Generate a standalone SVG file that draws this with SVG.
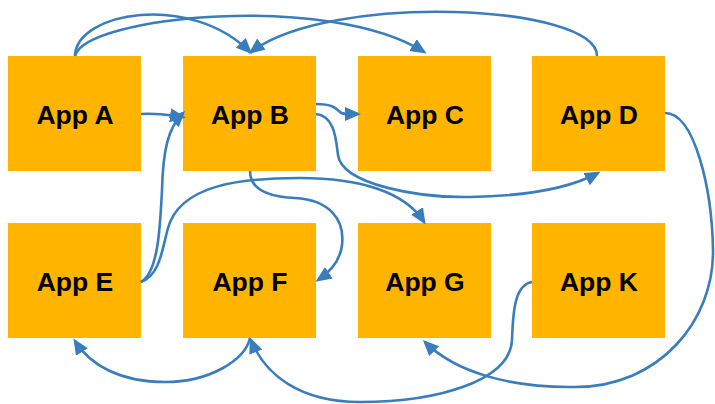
<svg xmlns="http://www.w3.org/2000/svg" width="715" height="404" viewBox="0 0 715 404">
<style>
.box{fill:#FFB400;}
.lbl{font-family:"Liberation Sans",Arial,sans-serif;font-weight:bold;font-size:26.5px;fill:#000;text-anchor:middle;}
.c{fill:none;stroke:#3A7DBD;stroke-width:2.6;marker-end:url(#ah);}
</style>
<defs>
<marker id="ah" markerUnits="userSpaceOnUse" markerWidth="17" markerHeight="15" refX="13" refY="7" orient="auto">
<path d="M0,0 L16,7 L0,14 z" fill="#3A7DBD"/>
</marker>
</defs>
<rect width="715" height="404" fill="#fff"/>
<g id="appA"><rect class="box" x="8" y="56" width="133" height="115"/><text class="lbl" x="75" y="124">App A</text></g>
<g id="appB"><rect class="box" x="183" y="56" width="133" height="115"/><text class="lbl" x="250" y="124">App B</text></g>
<g id="appC"><rect class="box" x="358" y="56" width="133" height="115"/><text class="lbl" x="425" y="124">App C</text></g>
<g id="appD"><rect class="box" x="532" y="56" width="133" height="115"/><text class="lbl" x="599" y="124">App D</text></g>
<g id="appE"><rect class="box" x="8" y="223" width="133" height="115"/><text class="lbl" x="75" y="291">App E</text></g>
<g id="appF"><rect class="box" x="183" y="223" width="133" height="115"/><text class="lbl" x="250" y="291">App F</text></g>
<g id="appG"><rect class="box" x="358" y="223" width="133" height="115"/><text class="lbl" x="425" y="291">App G</text></g>
<g id="appK"><rect class="box" x="532" y="223" width="133" height="115"/><text class="lbl" x="599" y="291">App K</text></g>
<g id="connectors">
<path class="c" d="M75,56 C76,12 190,-8 250,52"/>
<path class="c" d="M75,56 C85,16 330,-8 424,52"/>
<path class="c" d="M597,56 C597,4 330,-8 251,52"/>
<path class="c" d="M141,114 C160,113 168,115 183,117"/>
<path class="c" d="M141,282 C158,272 160,230 162,190 C163,150 168,128 183,113"/>
<path class="c" d="M141,282 C160,275 162,250 168,228 C180,185 240,178 300,178 C360,178 405,192 424,222"/>
<path class="c" d="M250,171 C250,190 270,197 295,198 C330,200 345,220 342,245 C340,262 330,272 318,280"/>
<path class="c" d="M316,104 C332,104 336,108 340,112 C343,115 348,114 358,114"/>
<path class="c" d="M316,114 C335,116 336,140 338,155 C342,185 420,198 470,197 C530,196 570,188 598,173"/>
<path class="c" d="M665,113 C695,113 712,190 713,250 C714,320 660,387 575,387 C510,388 455,372 425,342"/>
<path class="c" d="M532,282 C515,285 513,310 512,340 C510,380 440,402 360,402 C300,402 265,375 251,340"/>
<path class="c" d="M250,338 C245,360 210,382 165,382 C120,382 90,365 75,341"/>
</g>
</svg>
